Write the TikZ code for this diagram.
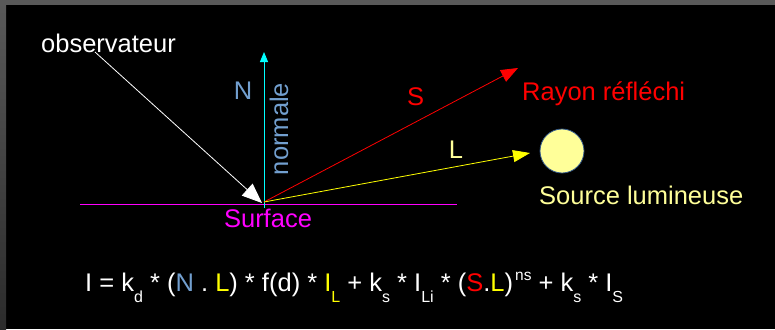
\documentclass[tikz,border=0pt]{standalone}
\usepackage{fontspec}
\setmainfont{Liberation Sans}
\usetikzlibrary{arrows.meta,positioning}
\definecolor{normBlue}{HTML}{729FCF}
\definecolor{paleYellow}{HTML}{FFFF99}
\definecolor{sunBorder}{HTML}{34598A}
\definecolor{pureMagenta}{HTML}{FF00FF}
\definecolor{pureCyan}{HTML}{00FFFF}
\definecolor{pureYellow}{HTML}{FFFF00}
\definecolor{pureRed}{HTML}{FF0000}
\newcommand{\lowIdx}[1]{\raisebox{-10.5pt}{\fontsize{16}{16}\selectfont #1}}
\newcommand{\highIdx}[1]{\hspace{2pt}\raisebox{11pt}{\fontsize{15.5}{15.5}\selectfont #1}}
\tikzset{
myLabel/.style={
	inner sep=0pt, font=\fontsize{25.5}{25.5}\selectfont
}
, mySun/.style={
	circle, draw=sunBorder, line width=0.8pt, fill=paleYellow,
	minimum size=44pt, inner sep=0pt
}
% rays
, myEye/.style={-{Triangle[length=20pt,width=16pt]},color=white,line width=0.8pt}
, myNormal/.style={-{Triangle[length=10pt,width=8pt]},color=pureCyan,line width=1pt}
, myReflect/.style={-{Triangle[length=17pt,width=13pt]},color=pureRed,line width=0.8pt}
, myLight/.style={-{Triangle[length=17pt,width=12pt]},color=pureYellow,line width=0.8pt}
, mySurface/.style={color=pureMagenta,line width=1pt}
}
\begin{document}
\begin{tikzpicture}[x=1pt,y=-1pt]
	% background
	\useasboundingbox (0,0) rectangle (775,329);
	\fill[black] (0,0) rectangle (775,329);
	\shade[top color=black!65,bottom color=black!83] (0,0) rectangle (6,329);
	\fill[black!65] (0,0) rectangle (775,5);
	% points
	\coordinate (hit) at (264,202);
	\coordinate (eye) at (95,52);
	\coordinate (top) at (264,52);
	\coordinate (foot) at (264,208);
	\coordinate (reflTip) at (518,68);
	\coordinate (lightTip) at (530,153);
	\coordinate (surfL) at (80,204);
	\coordinate (surfR) at (457,204);
	% nodes
	\node[myLabel, text=white, anchor=base west] (obs) at (41,52.7) {observateur};
	\node[myLabel, text=normBlue, anchor=base] (N) at (243,99) {N};
	\node[myLabel, text=normBlue, anchor=base, rotate=90] (normale) at (288,129) {normale};
	\node[myLabel, text=pureMagenta, anchor=base] (surf) at (268,227.3) {Surface};
	\node[myLabel, text=pureRed, anchor=base] (S) at (415.5,105.7) {S};
	\node[myLabel, text=pureRed, anchor=base west] (rayon) at (522,100.7) {Rayon réfléchi};
	\node[myLabel, text=paleYellow, anchor=base] (L) at (456,158.3) {L};
	\node[mySun] (sun) at (562,151) {};
	\node[myLabel, text=paleYellow, anchor=base west] (source) at (539,204.3) {Source lumineuse};
	% formula
	\node[myLabel, text=white, anchor=base west] (formula) at (85,291.5)
	{I = k\lowIdx{d} * ({\color{normBlue}N} . {\color{pureYellow}L}) * f(d) *
	 {\color{pureYellow}I\lowIdx{L}} + k\lowIdx{s} * I\lowIdx{Li} *
	 ({\color{pureRed}S}.{\color{pureYellow}L})\highIdx{ns} + k\lowIdx{s} * I\lowIdx{S}};
	% links
	\draw [mySurface] (surfL) -- (surfR);
	\draw [myNormal] (foot) -- (top);
	\draw [myReflect] (hit) -- (reflTip);
	\draw [myLight] (hit) -- (lightTip);
	\draw [myEye] (eye) -- (262,203);
\end{tikzpicture}
\end{document}
